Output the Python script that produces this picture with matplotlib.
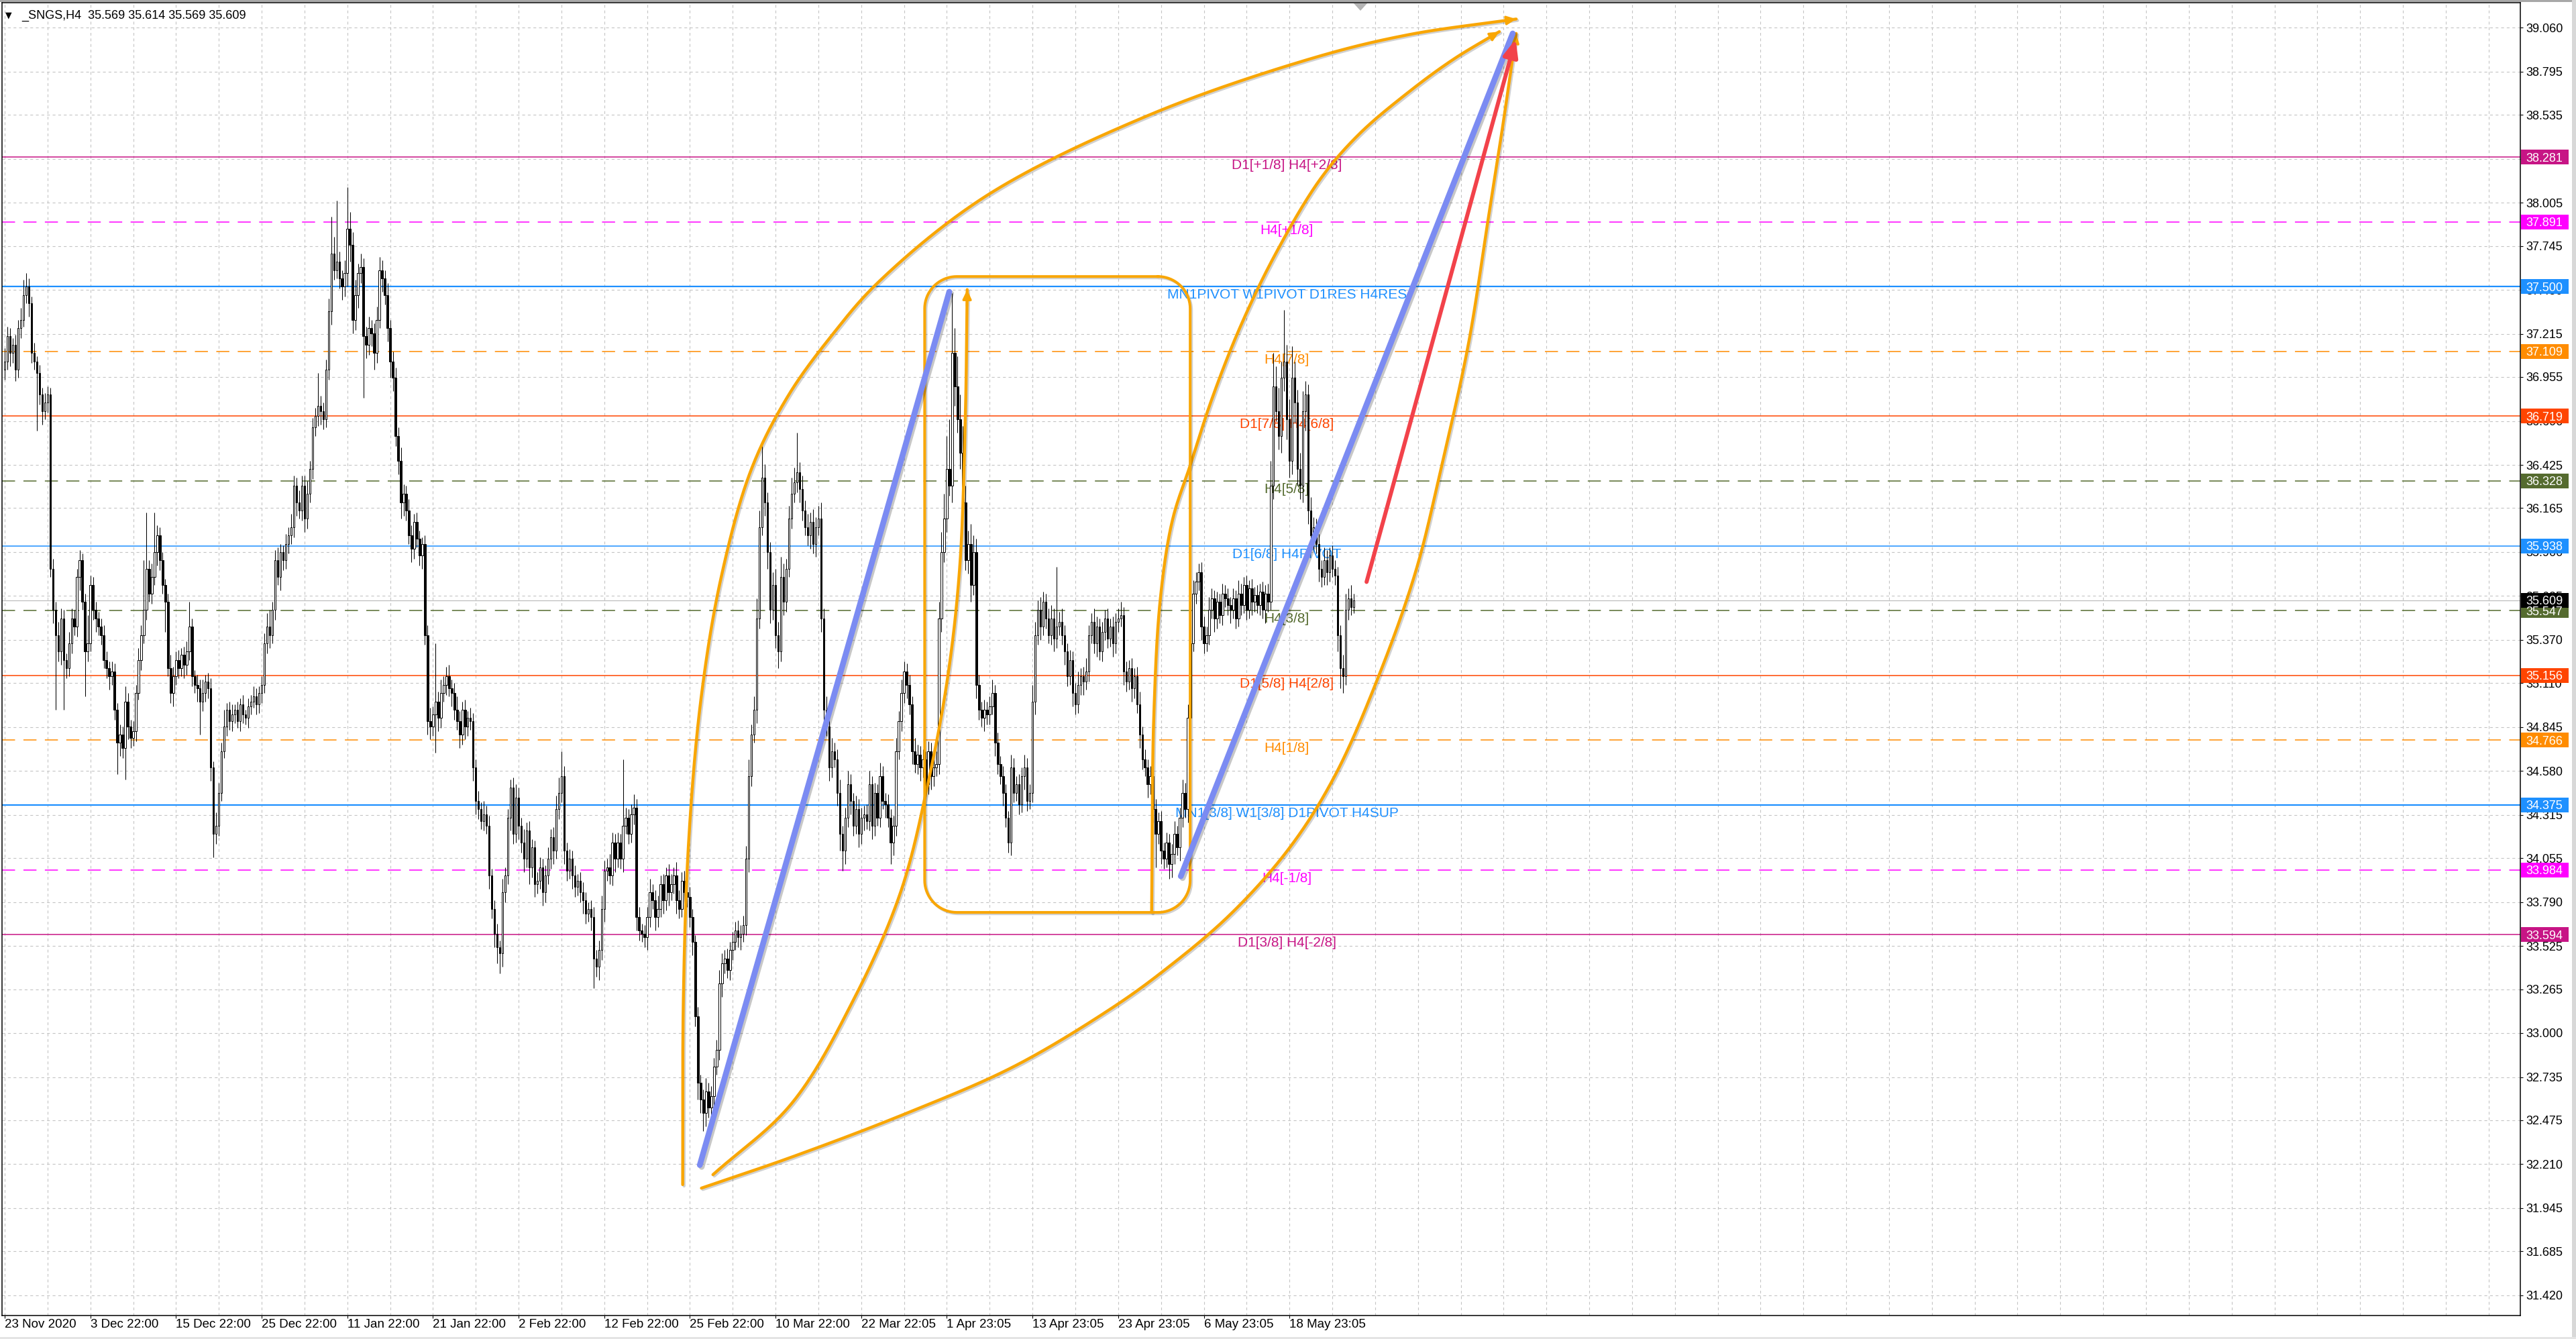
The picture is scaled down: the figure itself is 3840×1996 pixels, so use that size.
import numpy as np
import matplotlib
matplotlib.use("Agg")
import matplotlib.pyplot as plt
import matplotlib.patheffects as pe
from matplotlib.patches import Rectangle, Polygon
from matplotlib.transforms import blended_transform_factory

plt.rcParams['font.family'] = ['Liberation Sans', 'DejaVu Sans']
plt.rcParams['lines.scale_dashes'] = False

# H4 bars of _SNGS (one row = 16 bars)
first_open = 37.00
closes = [
    37.05, 37.20, 37.10, 37.15, 37.00, 37.25, 37.30, 37.45, 37.50, 37.40, 37.10, 37.05, 36.98, 36.85, 36.75, 36.80,
    36.85, 35.80, 35.55, 35.40, 35.30, 35.50, 35.25, 35.20, 35.35, 35.50, 35.45, 35.75, 35.85, 35.60, 35.30, 35.35,
    35.70, 35.55, 35.50, 35.45, 35.40, 35.25, 35.20, 35.15, 35.18, 34.95, 34.75, 34.80, 34.72, 35.00, 34.85, 34.78,
    34.82, 35.05, 35.25, 35.40, 35.55, 35.80, 35.65, 35.75, 35.90, 36.00, 35.85, 35.70, 35.60, 35.20, 35.05, 35.15,
    35.25, 35.20, 35.28, 35.22, 35.30, 35.45, 35.15, 35.10, 35.08, 35.00, 35.05, 35.12, 35.08, 34.60, 34.20, 34.25,
    34.45, 34.70, 34.85, 34.95, 34.88, 34.92, 34.95, 34.88, 34.98, 34.92, 34.90, 34.97, 35.00, 35.03, 34.98, 35.05,
    35.10, 35.35, 35.45, 35.40, 35.55, 35.85, 35.75, 35.90, 35.85, 35.95, 36.00, 36.05, 36.30, 36.20, 36.15, 36.30,
    36.10, 36.25, 36.40, 36.65, 36.72, 36.78, 36.75, 36.70, 37.00, 37.35, 37.70, 37.60, 37.65, 37.55, 37.50, 37.58,
    37.85, 37.75, 37.30, 37.45, 37.58, 37.62, 37.20, 37.15, 37.25, 37.22, 37.10, 37.30, 37.60, 37.55, 37.45, 37.25,
    37.05, 36.95, 36.60, 36.45, 36.20, 36.25, 36.15, 36.00, 35.92, 36.08, 35.98, 35.88, 35.95, 35.40, 34.88, 34.85,
    34.92, 35.00, 34.90, 35.05, 35.10, 35.15, 35.08, 35.05, 34.95, 34.88, 34.80, 34.95, 34.85, 34.90, 34.88, 34.60,
    34.40, 34.35, 34.28, 34.32, 34.25, 33.95, 33.75, 33.60, 33.52, 33.48, 33.85, 33.95, 34.30, 34.48, 34.20, 34.42,
    34.25, 34.15, 34.05, 34.22, 34.00, 34.12, 33.90, 33.92, 34.00, 33.85, 33.95, 34.05, 34.18, 34.10, 34.35, 34.45,
    34.55, 34.10, 33.98, 34.05, 33.95, 33.88, 33.92, 33.85, 33.80, 33.72, 33.75, 33.70, 33.45, 33.40, 33.50, 33.75,
    33.98, 34.00, 33.95, 34.15, 34.05, 34.15, 34.05, 34.25, 34.30, 34.20, 34.32, 34.36, 33.70, 33.62, 33.60, 33.58,
    33.70, 33.85, 33.80, 33.70, 33.75, 33.90, 33.80, 33.95, 33.85, 33.90, 33.95, 33.80, 33.75, 33.92, 33.85, 33.82,
    33.70, 33.55, 33.10, 32.70, 32.60, 32.52, 32.65, 32.55, 32.62, 32.80, 32.90, 33.30, 33.42, 33.45, 33.38, 33.50,
    33.55, 33.62, 33.58, 33.60, 33.65, 34.05, 34.55, 34.80, 34.95, 35.50, 36.05, 36.35, 36.20, 35.90, 35.55, 35.70,
    35.40, 35.30, 35.75, 35.60, 35.80, 36.10, 36.25, 36.32, 36.38, 36.28, 36.15, 36.05, 36.00, 36.08, 35.95, 36.05,
    36.10, 35.50, 34.95, 34.85, 34.60, 34.70, 34.65, 34.45, 34.20, 34.10, 34.30, 34.50, 34.40, 34.25, 34.35, 34.20,
    34.30, 34.32, 34.28, 34.50, 34.25, 34.45, 34.30, 34.55, 34.40, 34.38, 34.30, 34.15, 34.25, 34.70, 34.88, 35.05,
    35.18, 35.10, 34.98, 34.70, 34.62, 34.68, 34.60, 34.65, 34.50, 34.70, 34.55, 34.60, 34.62, 35.50, 35.90, 36.10,
    36.40, 36.30, 37.10, 36.90, 36.70, 36.50, 36.20, 35.85, 35.95, 35.70, 35.90, 35.10, 34.95, 34.90, 34.95, 34.92,
    34.97, 35.05, 34.75, 34.62, 34.55, 34.45, 34.30, 34.15, 34.60, 34.45, 34.50, 34.38, 34.55, 34.60, 34.40, 34.45,
    35.00, 35.40, 35.55, 35.45, 35.60, 35.50, 35.40, 35.50, 35.38, 35.45, 35.48, 35.40, 35.30, 35.15, 35.25, 35.05,
    34.98, 35.10, 35.15, 35.12, 35.18, 35.40, 35.48, 35.35, 35.45, 35.30, 35.42, 35.50, 35.38, 35.45, 35.35, 35.48,
    35.50, 35.52, 35.18, 35.12, 35.20, 35.08, 35.15, 34.98, 34.80, 34.65, 34.60, 34.50, 34.55, 34.35, 34.20, 34.28,
    34.10, 34.05, 34.15, 34.02, 34.08, 34.20, 34.12, 34.30, 34.45, 34.35, 34.90, 35.35, 35.65, 35.72, 35.78, 35.45,
    35.35, 35.40, 35.55, 35.62, 35.50, 35.60, 35.52, 35.65, 35.62, 35.58, 35.55, 35.62, 35.50, 35.65, 35.58, 35.70,
    35.55, 35.68, 35.60, 35.64, 35.58, 35.66, 35.55, 35.65, 35.60, 36.30, 36.90, 36.75, 36.60, 36.95, 37.05, 36.70,
    36.45, 36.95, 36.80, 36.40, 36.30, 36.75, 36.85, 36.15, 36.00, 36.05, 35.95, 35.80, 35.75, 35.85, 35.78, 35.88,
    35.80, 35.76, 35.40, 35.20, 35.15, 35.55, 35.62, 35.57, 35.609,
]
# upper / lower shadow length of each bar, in kopecks
wick_up = [
    8, 6, 5, 4, 6, 5, 7, 9, 8, 5, 4, 6, 3, 5, 4, 6,
    5, 4, 6, 5, 8, 6, 5, 4, 7, 6, 5, 5, 6, 4, 5, 17,
    6, 5, 5, 4, 5, 6, 5, 4, 6, 5, 4, 6, 5, 9, 5, 4,
    6, 5, 7, 6, 30, 34, 5, 8, 24, 6, 5, 5, 4, 5, 8, 6,
    5, 6, 4, 5, 6, 15, 5, 4, 6, 5, 8, 4, 5, 6, 4, 8,
    6, 5, 10, 4, 5, 6, 3, 5, 4, 6, 3, 5, 4, 6, 5, 4,
    5, 6, 8, 10, 5, 6, 8, 5, 4, 6, 5, 8, 6, 5, 7, 6,
    6, 8, 5, 6, 5, 20, 6, 5, 6, 8, 22, 10, 37, 6, 5, 8,
    25, 10, 8, 9, 6, 8, 5, 6, 7, 5, 6, 8, 8, 6, 5, 7,
    5, 6, 6, 5, 8, 6, 5, 7, 6, 5, 6, 5, 4, 5, 6, 8,
    5, 35, 6, 8, 5, 6, 7, 5, 6, 8, 6, 5, 6, 4, 6, 5,
    5, 6, 4, 8, 5, 6, 4, 5, 6, 4, 8, 5, 5, 5, 6, 8,
    6, 5, 8, 5, 6, 5, 4, 5, 6, 5, 6, 7, 5, 6, 8, 9,
    15, 6, 5, 6, 5, 6, 4, 5, 6, 5, 4, 5, 6, 5, 6, 8,
    6, 5, 8, 6, 5, 6, 5, 40, 6, 5, 6, 8, 5, 6, 4, 5,
    6, 8, 5, 6, 8, 5, 6, 5, 7, 6, 5, 8, 6, 5, 6, 5,
    6, 5, 4, 6, 5, 6, 8, 5, 6, 5, 6, 8, 6, 5, 6, 5,
    6, 5, 6, 5, 6, 8, 10, 6, 8, 12, 10, 21, 8, 6, 6, 8,
    10, 8, 12, 8, 6, 8, 10, 9, 24, 6, 8, 6, 8, 6, 8, 6,
    8, 10, 6, 8, 6, 8, 5, 6, 8, 5, 6, 8, 6, 5, 8, 6,
    6, 5, 6, 8, 5, 6, 5, 8, 6, 5, 6, 5, 6, 8, 6, 8,
    6, 5, 6, 5, 8, 6, 5, 6, 5, 6, 5, 6, 8, 10, 12, 15,
    20, 30, 36, 15, 18, 15, 16, 10, 8, 12, 10, 8, 6, 5, 6, 5,
    6, 8, 5, 6, 5, 6, 5, 4, 8, 6, 5, 6, 5, 8, 6, 5,
    10, 8, 6, 8, 6, 5, 6, 8, 6, 36, 6, 8, 6, 5, 6, 5,
    6, 8, 5, 6, 8, 6, 5, 8, 6, 5, 6, 5, 6, 5, 6, 5,
    6, 8, 5, 6, 5, 6, 5, 6, 8, 5, 6, 5, 6, 5, 6, 5,
    6, 5, 6, 5, 6, 8, 5, 6, 8, 6, 8, 10, 8, 6, 5, 6,
    6, 5, 8, 6, 5, 6, 5, 6, 5, 6, 5, 6, 5, 8, 6, 5,
    6, 5, 6, 5, 6, 5, 6, 5, 6, 15, 20, 12, 14, 10, 31, 10,
    12, 19, 10, 8, 10, 12, 8, 6, 8, 6, 5, 6, 5, 8, 6, 5,
    6, 5, 5, 6, 8, 10, 6, 8, 4,
]
wick_dn = [
    6, 5, 8, 6, 7, 5, 6, 4, 5, 8, 6, 5, 35, 6, 8, 5,
    6, 5, 8, 45, 6, 8, 30, 6, 5, 6, 5, 6, 8, 5, 27, 6,
    5, 6, 8, 5, 6, 5, 6, 8, 5, 6, 19, 8, 6, 19, 8, 6,
    5, 6, 4, 6, 5, 6, 5, 6, 5, 8, 6, 5, 18, 5, 6, 8,
    5, 6, 5, 8, 6, 5, 6, 5, 8, 20, 6, 5, 6, 8, 14, 6,
    6, 5, 4, 6, 5, 6, 5, 4, 6, 5, 4, 6, 5, 4, 6, 5,
    6, 5, 6, 8, 5, 6, 5, 8, 6, 5, 6, 5, 6, 8, 5, 6,
    8, 6, 5, 6, 5, 6, 8, 6, 5, 6, 8, 6, 5, 6, 8, 6,
    8, 10, 8, 6, 8, 6, 37, 8, 6, 8, 10, 6, 5, 8, 6, 8,
    10, 8, 6, 8, 10, 8, 6, 5, 8, 6, 5, 6, 8, 6, 8, 8,
    6, 23, 8, 6, 5, 6, 5, 8, 6, 5, 8, 6, 8, 6, 5, 8,
    8, 6, 5, 6, 5, 8, 6, 8, 10, 12, 8, 6, 5, 8, 6, 5,
    8, 6, 8, 5, 10, 6, 8, 6, 5, 8, 6, 5, 6, 8, 5, 6,
    6, 8, 6, 5, 8, 6, 5, 6, 8, 6, 5, 8, 18, 6, 8, 6,
    8, 6, 5, 6, 8, 5, 6, 8, 5, 6, 5, 6, 8, 6, 5, 6,
    8, 6, 5, 8, 6, 5, 8, 6, 8, 5, 6, 8, 6, 5, 8, 6,
    6, 8, 6, 10, 8, 11, 8, 6, 8, 6, 5, 6, 8, 6, 5, 6,
    6, 5, 6, 8, 5, 6, 8, 6, 5, 8, 6, 5, 8, 10, 8, 6,
    8, 10, 6, 8, 6, 5, 6, 5, 6, 8, 6, 5, 6, 8, 6, 8,
    5, 8, 10, 6, 8, 6, 5, 8, 10, 12, 8, 6, 8, 6, 5, 8,
    6, 8, 5, 6, 8, 6, 5, 6, 5, 8, 6, 13, 8, 6, 5, 6,
    6, 8, 6, 8, 5, 6, 8, 6, 5, 6, 8, 6, 5, 6, 8, 6,
    8, 6, 10, 12, 8, 10, 8, 6, 8, 10, 6, 8, 6, 5, 8, 6,
    6, 5, 8, 6, 5, 8, 6, 6, 8, 6, 5, 6, 5, 8, 6, 5,
    6, 8, 6, 8, 5, 6, 5, 6, 8, 6, 5, 6, 8, 6, 5, 8,
    6, 5, 6, 8, 5, 6, 5, 6, 8, 5, 6, 5, 6, 5, 8, 6,
    6, 5, 8, 6, 5, 8, 6, 5, 8, 6, 5, 8, 6, 8, 20, 6,
    8, 6, 5, 9, 8, 6, 5, 8, 6, 5, 8, 6, 5, 6, 5, 8,
    6, 5, 6, 5, 8, 6, 5, 6, 5, 6, 8, 5, 6, 5, 6, 5,
    6, 5, 8, 6, 5, 6, 5, 8, 6, 5, 8, 6, 8, 10, 8, 12,
    10, 8, 12, 10, 8, 10, 12, 8, 10, 8, 6, 8, 6, 5, 8, 6,
    5, 6, 10, 12, 10, 5, 6, 5, 4,
]

price_ticks = [39.060, 38.795, 38.535, 38.270, 38.005, 37.745, 37.480, 37.215, 36.955, 36.690,
               36.425, 36.165, 35.900, 35.635, 35.370, 35.110, 34.845, 34.580, 34.315, 34.055,
               33.790, 33.525, 33.265, 33.000, 32.735, 32.475, 32.210, 31.945, 31.685, 31.420]
time_labels = ["23 Nov 2020", "3 Dec 22:00", "15 Dec 22:00", "25 Dec 22:00", "11 Jan 22:00",
               "21 Jan 22:00", "2 Feb 22:00", "12 Feb 22:00", "25 Feb 22:00", "10 Mar 22:00",
               "22 Mar 22:05", "1 Apr 23:05", "13 Apr 23:05", "23 Apr 23:05", "6 May 23:05",
               "18 May 23:05"]
bars_per_label = 32

# Murrey / pivot levels
level_prices = [38.281, 37.891, 37.500, 37.109, 36.719, 36.328, 35.938,
                35.547, 35.156, 34.766, 34.375, 33.984, 33.594]
level_names = ["D1[+1/8] H4[+2/8]", "H4[+1/8]", "MN1PIVOT W1PIVOT D1RES H4RES", "H4[7/8]",
               "D1[7/8] H4[6/8]", "H4[5/8]", "D1[6/8] H4PIVOT", "H4[3/8]", "D1[5/8] H4[2/8]",
               "H4[1/8]", "MN1[3/8] W1[3/8] D1PIVOT H4SUP", "H4[-1/8]", "D1[3/8] H4[-2/8]"]
level_colors = ["#C71585", "#FF00FF", "#1E90FF", "#FF8C00", "#FF4500", "#556B2F", "#1E90FF",
                "#556B2F", "#FF4500", "#FF8C00", "#1E90FF", "#FF00FF", "#C71585"]
level_dashed = [False, True, False, True, False, True, False, True, False, True, False, True, False]
level_label_bar = 479
last_price = 35.609
title = "_SNGS,H4  35.569 35.614 35.569 35.609"

# hand drawn objects, anchored as (bar, price)
arc_outer = [(253.3, 32.087), (253.6, 33.243), (255.6, 34.173), (260.2, 35.023), (267.7, 35.750),
             (278.9, 36.397), (292.7, 36.842), (309.0, 37.206), (326.6, 37.530), (366.7, 38.047),
             (427.8, 38.536), (489.2, 38.880), (524.6, 39.019), (564.7, 39.113)]
arc_mid = [(428.5, 33.728), (429.3, 34.901), (431.8, 35.625), (436.3, 36.094), (442.9, 36.422),
           (450.9, 36.818), (461.4, 37.250), (474.7, 37.695), (491.5, 38.148), (506.0, 38.419),
           (524.6, 38.674), (541.4, 38.872), (558.4, 39.037)]
arc_left = [(264.6, 32.147), (294.0, 32.576), (317.3, 33.207), (334.8, 33.854), (345.4, 34.541),
            (352.4, 35.156), (356.8, 35.807), (358.9, 36.709), (359.6, 37.482)]
arc_low = [(260.3, 32.066), (294.0, 32.253), (336.6, 32.515), (376.9, 32.798), (412.0, 33.134),
           (432.1, 33.365), (457.9, 33.716), (480.2, 34.121), (497.0, 34.553), (513.8, 35.172),
           (527.3, 35.791), (537.1, 36.438), (546.9, 37.158), (554.1, 37.893), (559.6, 38.460),
           (564.7, 39.026)]
box_bars = (343.7, 442.9)
box_prices = (33.728, 37.561)
blue_lines = [((259.7, 32.205), (352.9, 37.469)), ((439.4, 33.946), (563.4, 39.026))]
red_arrow = ((508.8, 35.720), (564.5, 38.992))

ORANGE = "#F9A603"
BLUE = "#7B8BF2"
RED = "#F2424A"

W, H = 3840, 1996
fig = plt.figure(figsize=(W / 100, H / 100), dpi=100)
fig.patch.set_facecolor("white")
ax = fig.add_axes([3 / W, 1 - 1961 / H, 3754 / W, 1957 / H])
ax.set_xlim(-1.0, 939.85)
ax.set_ylim(31.298, 39.2116)
BAR_PX = 3754 / 940.85
PRICE_PX = 1957 / (39.2116 - 31.298)

for s in ax.spines.values():
    s.set_color("black")
    s.set_linewidth(1.1)

# grid + ticks
n_lab = len(time_labels)
major = np.arange(n_lab) * bars_per_label
ax.set_xticks(major)
ax.set_xticklabels(time_labels, ha="left")
ax.set_xticks([v for v in np.arange(16, 940, 16) if v not in set(major)], minor=True)
ax.tick_params(axis="x", which="major", length=3, width=0.8, pad=0.5, labelsize=13.5)
ax.tick_params(axis="x", which="minor", length=0)
ax.set_yticks(price_ticks)
ax.yaxis.tick_right()
ax.tick_params(axis="y", which="both", length=2.9, width=0.8, labelright=False)
ax.set_axisbelow(True)
ax.xaxis.grid(True, which="both", color="#C4C4C4", linestyle=(0, (3, 3)), linewidth=0.8)
ax.yaxis.grid(True, which="major", color="#C4C4C4", linestyle=(0, (3, 3)), linewidth=0.8)

# levels
for p, name, c, d in zip(level_prices, level_names, level_colors, level_dashed):
    lw = 1.6 if name.startswith("MN1") else 1.1
    ax.axhline(p, color=c, lw=lw, ls=(0, (14, 9)) if d else "-", zorder=1)
    ax.annotate(name, (level_label_bar, p), xytext=(0, -2.2), textcoords="offset points",
                ha="center", va="top", fontsize=15, color=c, zorder=1.5)
ax.axhline(last_price, color="#BEBEBE", lw=0.9, zorder=1)

# candles
c = np.array(closes)
o = np.concatenate([[first_open], c[:-1]])
hi = np.maximum(o, c) + np.array(wick_up) / 100
lo = np.minimum(o, c) - np.array(wick_dn) / 100
x = np.arange(len(c))
ax.vlines(x, lo, hi, color="black", lw=0.75, zorder=2)
bull = c >= o
body_lo = np.minimum(o, c)
body_h = np.maximum(np.abs(c - o), 0.006)
ax.bar(x[bull], body_h[bull], bottom=body_lo[bull], width=0.62, color="white",
       edgecolor="black", linewidth=0.7, zorder=2.1)
ax.bar(x[~bull], body_h[~bull], bottom=body_lo[~bull], width=0.62, color="black",
       edgecolor="black", linewidth=0.7, zorder=2.1)


def smooth(pts, n=40):
    s = np.array(pts, float) * [BAR_PX, PRICE_PX]
    s = np.vstack([2 * s[0] - s[1], s, 2 * s[-1] - s[-2]])
    out = []
    for i in range(1, len(s) - 2):
        p0, p1, p2, p3 = s[i - 1], s[i], s[i + 1], s[i + 2]
        t0 = 0.0
        t1 = t0 + np.linalg.norm(p1 - p0) ** 0.5
        t2 = t1 + np.linalg.norm(p2 - p1) ** 0.5
        t3 = t2 + np.linalg.norm(p3 - p2) ** 0.5
        t = np.linspace(t1, t2, n)[:, None]
        a1 = (t1 - t) / (t1 - t0) * p0 + (t - t0) / (t1 - t0) * p1
        a2 = (t2 - t) / (t2 - t1) * p1 + (t - t1) / (t2 - t1) * p2
        a3 = (t3 - t) / (t3 - t2) * p2 + (t - t2) / (t3 - t2) * p3
        b1 = (t2 - t) / (t2 - t0) * a1 + (t - t0) / (t2 - t0) * a2
        b2 = (t3 - t) / (t3 - t1) * a2 + (t - t1) / (t3 - t1) * a3
        cc = (t2 - t) / (t2 - t1) * b1 + (t - t1) / (t2 - t1) * b2
        out.append(cc if i == 1 else cc[1:])
    return np.vstack(out) / [BAR_PX, PRICE_PX]


shadow = [pe.SimpleLineShadow(offset=(1.5, -1.5), shadow_color="k", alpha=0.18), pe.Normal()]


def orange_curve(pts, arrow=True):
    cv = smooth(pts)
    ax.plot(cv[:, 0], cv[:, 1], color=ORANGE, lw=3.2, solid_capstyle="round",
            zorder=4, path_effects=shadow)
    if arrow:
        ax.annotate("", xy=tuple(cv[-1]), xytext=tuple(cv[-6]),
                    arrowprops=dict(arrowstyle="-|>,head_length=0.75,head_width=0.35",
                                    mutation_scale=11, color=ORANGE, lw=2.5,
                                    shrinkA=0, shrinkB=0), zorder=4)


orange_curve(arc_outer)
orange_curve(arc_mid)
orange_curve(arc_left)
orange_curve(arc_low)

# rounded box
x0, x1 = box_bars
y0, y1 = box_prices
rx, ry = 48 / BAR_PX, 48 / PRICE_PX
th = np.linspace(0, np.pi / 2, 20)
corners = [((x1 - rx, y1 - ry), th[::-1]), ((x1 - rx, y0 + ry), -th),
           ((x0 + rx, y0 + ry), -np.pi / 2 - th), ((x0 + rx, y1 - ry), np.pi - th)]
bx, by = [], []
for (cx, cy), ang in corners:
    bx += list(cx + rx * np.cos(ang))
    by += list(cy + ry * np.sin(ang))
bx.append(bx[0])
by.append(by[0])
ax.plot(bx, by, color=ORANGE, lw=2.9, zorder=4, path_effects=shadow)

for (a, b) in blue_lines:
    ax.plot([a[0], b[0]], [a[1], b[1]], color=BLUE, lw=6.2, solid_capstyle="round",
            zorder=4.5, path_effects=[pe.SimpleLineShadow(offset=(2, -2), shadow_color="k", alpha=0.22),
                                      pe.Normal()])

ax.annotate("", xy=red_arrow[1], xytext=red_arrow[0],
            arrowprops=dict(arrowstyle="-|>,head_length=0.6,head_width=0.25", mutation_scale=26,
                            color=RED, lw=4.3, shrinkA=0, shrinkB=0, capstyle="round"),
            zorder=5)

# right price scale
tr = blended_transform_factory(fig.transFigure, ax.transData)
for v in price_ticks:
    ax.annotate(f"{v:.3f}", (3765 / W, v), xycoords=tr, xytext=(0, -4.6), textcoords="offset points",
                ha="left", va="baseline", fontsize=13, color="black", annotation_clip=False, zorder=6)

box_h = 22 / PRICE_PX
for p, col in list(zip(level_prices, level_colors)) + [(last_price, "black")]:
    ax.add_patch(Rectangle((3758 / W, p - box_h / 2), 71 / W, box_h, transform=tr, facecolor=col,
                           edgecolor="none", clip_on=False, zorder=7))
    ax.annotate(f"{p:.3f}", (3765 / W, p), xycoords=tr, xytext=(0, -4.6), textcoords="offset points",
                ha="left", va="baseline", fontsize=13, color="white", annotation_clip=False, zorder=8)

# window frame bits
fig.patches.append(Rectangle((0, 1 - 3 / H), 1, 3 / H, transform=fig.transFigure,
                             facecolor="#A8A8A8", edgecolor="none", zorder=0))
fig.patches.append(Rectangle((3834 / W, 0), 6 / W, 1, transform=fig.transFigure,
                             facecolor="#D8D8D8", edgecolor="none", zorder=0))
fig.patches.append(Rectangle((0, 0), 1, 3 / H, transform=fig.transFigure,
                             facecolor="#E4E4E4", edgecolor="none", zorder=0))
fig.patches.append(Polygon([(2018 / W, 1 - 5 / H), (2038 / W, 1 - 5 / H), (2028 / W, 1 - 16 / H)],
                           closed=True, transform=fig.transFigure, facecolor="#B4B4B4",
                           edgecolor="none", zorder=3))

fig.text(8 / W, 1 - 26 / H, "\u25bc", fontsize=9, family="DejaVu Sans", va="baseline", color="black")
fig.text(32.5 / W, 1 - 28 / H, title, fontsize=13, va="baseline", color="black")

fig.savefig("out.png", dpi=100, facecolor="white")
